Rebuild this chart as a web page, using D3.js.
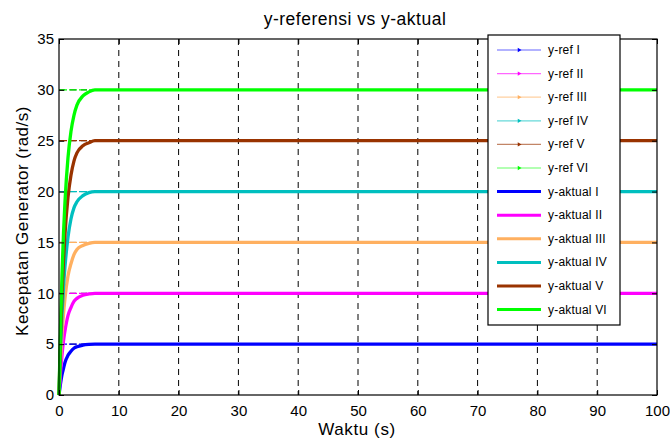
<!DOCTYPE html>
<html>
<head>
<meta charset="utf-8">
<script src="https://cdn.jsdelivr.net/npm/d3@7"></script>
<style>
  body { margin: 0; background: #fff; }
  svg { font-family: "Liberation Sans", Arial, sans-serif; }
</style>
</head>
<body>
<svg width="670" height="439"></svg>
<script>
// time samples (s)
var times = [0, 0.25, 0.5, 0.75, 1, 1.5, 2, 2.5, 3, 4, 5, 6, 8, 100];

var refNames = ["y-ref I", "y-ref II", "y-ref III", "y-ref IV", "y-ref V", "y-ref VI"];
var aktualNames = ["y-aktual I", "y-aktual II", "y-aktual III", "y-aktual IV", "y-aktual V", "y-aktual VI"];
var refValues = [5, 10, 15, 20, 25, 30];

var aktual1 = [0, 1.1, 2.0, 2.6, 3.2, 3.9, 4.3, 4.6, 4.75, 4.9, 4.97, 5, 5, 5];
var aktual2 = [0, 2.2, 3.9, 5.3, 6.3, 7.8, 8.6, 9.2, 9.5, 9.8, 9.93, 10, 10, 10];
var aktual3 = [0, 3.3, 5.9, 7.9, 9.5, 11.7, 12.9, 13.8, 14.3, 14.7, 14.9, 15, 15, 15];
var aktual4 = [0, 4.4, 7.9, 10.6, 12.6, 15.5, 17.3, 18.4, 19.0, 19.6, 19.9, 20, 20, 20];
var aktual5 = [0, 5.5, 9.8, 13.2, 15.8, 19.4, 21.6, 23.0, 23.8, 24.5, 24.8, 25, 25, 25];
var aktual6 = [0, 6.6, 11.8, 15.9, 19.0, 23.3, 25.9, 27.5, 28.5, 29.4, 29.8, 30, 30, 30];
var aktualSeries = [aktual1, aktual2, aktual3, aktual4, aktual5, aktual6];

var xTicks = [0, 10, 20, 30, 40, 50, 60, 70, 80, 90, 100];
var yTicks = [0, 5, 10, 15, 20, 25, 30, 35];

var colors = ["#0000ff", "#ff00ff", "#ffb060", "#00bfbf", "#993300", "#00ff00"];

var svg = d3.select("svg"),
    margin = {top: 39, right: 13, bottom: 44, left: 59},
    width = +svg.attr("width") - margin.left - margin.right,
    height = +svg.attr("height") - margin.top - margin.bottom,
    g = svg.append("g").attr("transform", "translate(" + margin.left + "," + margin.top + ")");

var x = d3.scaleLinear().domain([0, 100]).range([0, width]);
var y = d3.scaleLinear().domain([0, 35]).range([height, 0]);

// dashed grid
g.append("g").selectAll("line")
    .data(xTicks.slice(1, -1))
    .enter().append("line")
    .attr("x1", function(d) { return x(d); })
    .attr("x2", function(d) { return x(d); })
    .attr("y1", 0).attr("y2", height)
    .attr("stroke", "#000").attr("stroke-width", 1)
    .attr("stroke-dasharray", "6,5");
g.append("g").selectAll("line")
    .data(yTicks.slice(1, -1))
    .enter().append("line")
    .attr("x1", 0).attr("x2", width)
    .attr("y1", function(d) { return y(d); })
    .attr("y2", function(d) { return y(d); })
    .attr("stroke", "#000").attr("stroke-width", 1)
    .attr("stroke-dasharray", "6,5");

// reference lines (thin)
refValues.forEach(function(v, i) {
    var pts = [[0, v], [100, v]];
    g.append("path")
        .datum(pts)
        .attr("fill", "none")
        .attr("stroke", colors[i])
        .attr("stroke-width", 1.3)
        .attr("stroke-dasharray", "8,2")
        .attr("d", d3.line().x(function(d) { return x(d[0]); }).y(function(d) { return y(d[1]); }));
});

// actual responses
var line = d3.line()
    .curve(d3.curveMonotoneX)
    .x(function(d) { return x(d[0]); })
    .y(function(d) { return y(d[1]); });

aktualSeries.forEach(function(s, i) {
    var pts = times.map(function(t, j) { return [t, s[j]]; });
    g.append("path")
        .datum(pts)
        .attr("fill", "none")
        .attr("stroke", colors[i])
        .attr("stroke-width", 3.3)
        .attr("d", line);
});

// axes with inward ticks
g.append("g")
    .attr("transform", "translate(0," + height + ")")
    .call(d3.axisBottom(x).tickValues(xTicks).tickSizeInner(-5).tickSizeOuter(0).tickPadding(10))
    .call(function(a) { a.select(".domain").remove(); })
    .selectAll("text").attr("font-size", 15).attr("font-family", "Liberation Sans, Arial, sans-serif");
g.append("g")
    .call(d3.axisLeft(y).tickValues(yTicks).tickSizeInner(-5).tickSizeOuter(0).tickPadding(5))
    .call(function(a) { a.select(".domain").remove(); })
    .selectAll("text").attr("font-size", 15).attr("font-family", "Liberation Sans, Arial, sans-serif");
g.append("g")
    .call(d3.axisTop(x).tickValues(xTicks).tickSizeInner(-5).tickSizeOuter(0).tickFormat(""))
    .call(function(a) { a.select(".domain").remove(); });
g.append("g")
    .attr("transform", "translate(" + width + ",0)")
    .call(d3.axisRight(y).tickValues(yTicks).tickSizeInner(-5).tickSizeOuter(0).tickFormat(""))
    .call(function(a) { a.select(".domain").remove(); });

g.append("rect")
    .attr("width", width).attr("height", height)
    .attr("fill", "none").attr("stroke", "#000").attr("stroke-width", 1.2);

// titles
svg.append("text")
    .attr("x", 355).attr("y", 25)
    .attr("text-anchor", "middle").attr("font-size", 17.5)
    .attr("letter-spacing", 0.5)
    .text("y-referensi vs y-aktual");
svg.append("text")
    .attr("x", 357).attr("y", 435)
    .attr("text-anchor", "middle").attr("font-size", 17)
    .attr("letter-spacing", 0.6)
    .text("Waktu (s)");
svg.append("text")
    .attr("transform", "translate(28," + (margin.top + height / 2 + 4) + ") rotate(-90)")
    .attr("text-anchor", "middle").attr("font-size", 17)
    .attr("letter-spacing", 0.5)
    .text("Kecepatan Generator  (rad/s)");

// legend
var legend = svg.append("g").attr("transform", "translate(488,35)");
legend.append("rect")
    .attr("width", 132).attr("height", 290)
    .attr("fill", "#fff").attr("stroke", "#000").attr("stroke-width", 1.2);
var legendNames = refNames.concat(aktualNames);
legendNames.forEach(function(name, i) {
    var c = colors[i % 6];
    var isRef = i < 6;
    var ly = 15 + i * 23.6;
    var item = legend.append("g").attr("transform", "translate(0," + ly + ")");
    item.append("line")
        .attr("x1", 9).attr("x2", 53).attr("y1", 0).attr("y2", 0)
        .attr("stroke", c)
        .attr("stroke-width", isRef ? 1.2 : 3)
        .attr("stroke-opacity", isRef ? 0.6 : 1);
    if (isRef) {
        item.append("path")
            .attr("d", d3.symbol().type(d3.symbolTriangle).size(8))
            .attr("transform", "translate(31,0) rotate(90)")
            .attr("fill", c);
    }
    item.append("text")
        .attr("x", 60).attr("y", 4)
        .attr("font-size", 12)
        .attr("letter-spacing", 0.2)
        .text(name);
});
</script>
</body>
</html>
